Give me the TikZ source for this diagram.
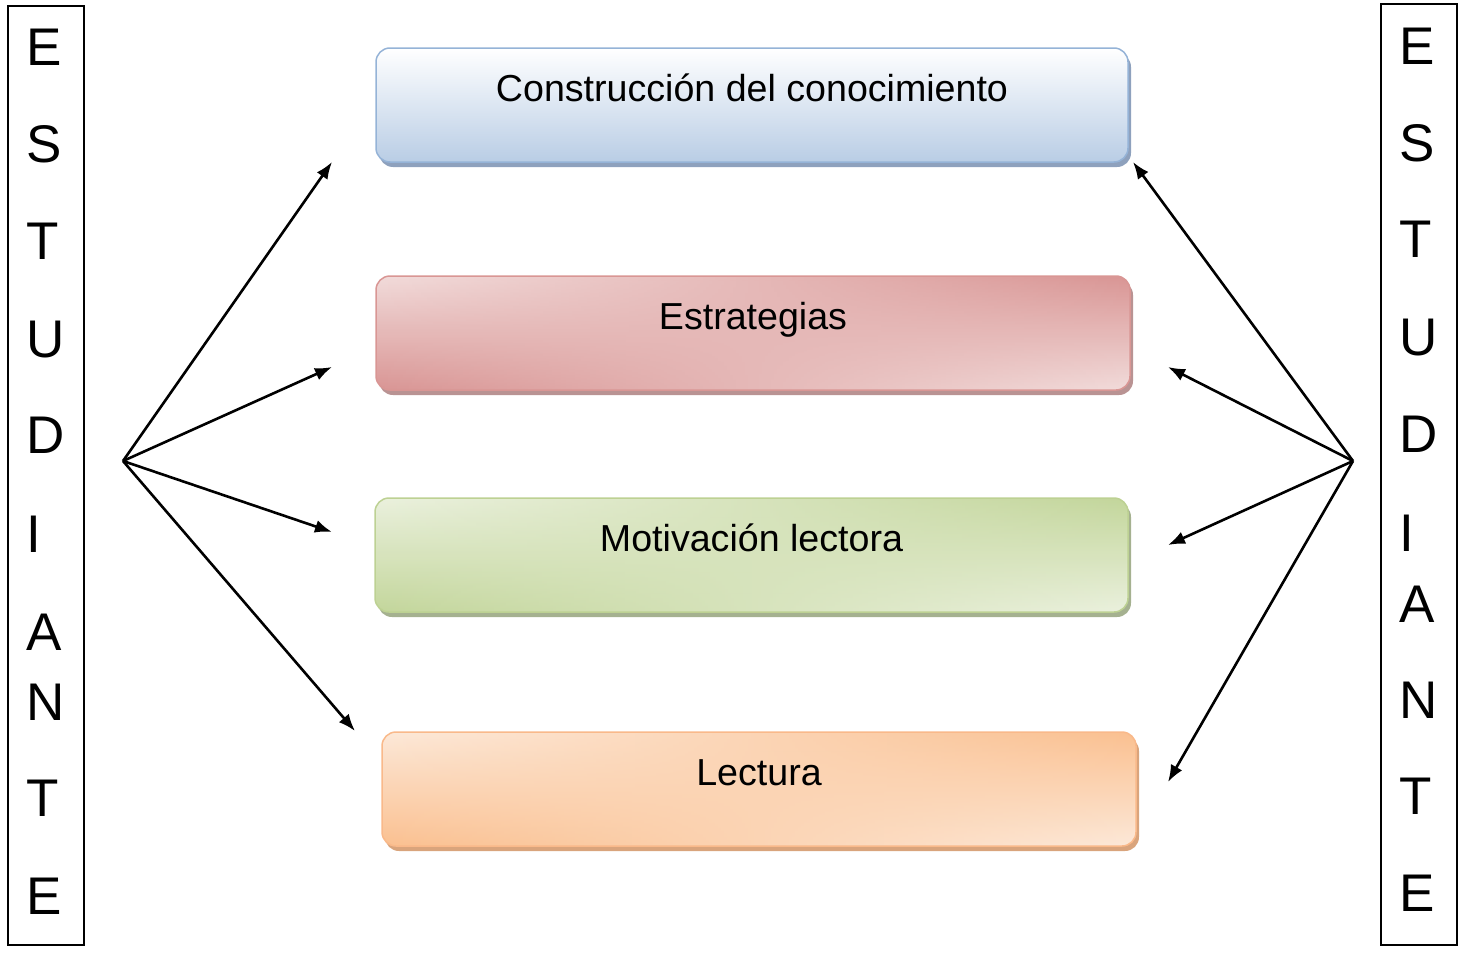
\documentclass[tikz,border=0pt]{standalone}
\usepackage{fontspec}
\setmainfont{Liberation Sans}
\usetikzlibrary{arrows.meta,shadows,fadings}
\definecolor{bluedk}{HTML}{B9CDE5}
\definecolor{bluelt}{HTML}{FFFFFF}
\definecolor{bluebd}{HTML}{95B3D7}
\definecolor{bluesh}{HTML}{8EA1BD}
\definecolor{reddk}{HTML}{D99594}
\definecolor{redlt}{HTML}{F2DCDB}
\definecolor{redbd}{HTML}{D99694}
\definecolor{redsh}{HTML}{B99393}
\definecolor{grndk}{HTML}{C3D69B}
\definecolor{grnlt}{HTML}{EBF1DE}
\definecolor{grnbd}{HTML}{BDD193}
\definecolor{grnsh}{HTML}{A5B190}
\definecolor{ordk}{HTML}{FAC090}
\definecolor{orlt}{HTML}{FDE9D9}
\definecolor{orbd}{HTML}{F9B98A}
\definecolor{orsh}{HTML}{D9A47C}
\tikzset{
  boxbase/.style={rectangle, rounded corners=14pt, minimum height=114pt, inner sep=0pt,
    text height=28pt, text depth=36pt, font=\fontsize{37.6}{40}\selectfont, line width=1.5pt},
  twotone/.style 2 args={path picture={
      \shade[top color=#1,bottom color=#2] (path picture bounding box.north west) rectangle (path picture bounding box.south east);
      \shade[top color=#2,bottom color=#1,path fading=east] (path picture bounding box.north west) rectangle (path picture bounding box.south east);}},
  shad/.style={drop shadow={shadow xshift=3pt, shadow yshift=-5pt, fill=#1, opacity=1}},
  sidebox/.style={draw, line width=1.5pt},
  letter/.style={anchor=base west, inner sep=0pt, font=\fontsize{53}{55}\selectfont},
  arr/.style={line width=2.6pt, -{Latex[length=17pt,width=13pt]}},
}
\begin{document}
\begin{tikzpicture}[x=1pt,y=-1pt]
\useasboundingbox (0,0) rectangle (1460,953);
% side boxes
\node[sidebox, minimum width=76pt, minimum height=939pt, inner sep=0pt] (lbox) at (46,475.5) {};
\node[sidebox, minimum width=76pt, minimum height=941pt, inner sep=0pt] (rbox) at (1419,474.5) {};
\foreach \l/\y [count=\i] in {E/65,S/162,T/259,U/357,D/453,I/552,A/650,N/720,T/816,E/914}
  \node[letter] (ll\i) at (26,\y) {\l};
\foreach \l/\y [count=\i] in {E/64,S/161,T/257,U/355,D/452,I/551,A/622,N/718,T/814,E/911}
  \node[letter] (rl\i) at (1399,\y) {\l};
% boxes
\node[boxbase, minimum width=752pt, draw=bluebd, top color=bluelt, bottom color=bluedk, shad=bluesh] (b1) at (752,105) {Construcción del conocimiento};
\node[boxbase, minimum width=754pt, draw=redbd, twotone={reddk}{redlt}, shad=redsh] (b2) at (753,333) {Estrategias};
\node[boxbase, minimum width=753pt, draw=grnbd, twotone={grndk}{grnlt}, shad=grnsh] (b3) at (751.5,555) {Motivación lectora};
\node[boxbase, minimum width=754pt, draw=orbd, twotone={ordk}{orlt}, shad=orsh] (b4) at (759,789) {Lectura};
% arrows
\coordinate (lh) at (123,461);
\coordinate (lt1) at (332,162);
\coordinate (lt2) at (332,367);
\coordinate (lt3) at (332,532);
\coordinate (lt4) at (355,731);
\coordinate (rh) at (1353,461);
\coordinate (rt1) at (1133,162);
\coordinate (rt2) at (1168,367);
\coordinate (rt3) at (1168,545);
\coordinate (rt4) at (1168,782);
\foreach \i in {1,2,3,4}{
  \draw[arr] (lh) -- (lt\i);
  \draw[arr] (rh) -- (rt\i);
}
\end{tikzpicture}
\end{document}
